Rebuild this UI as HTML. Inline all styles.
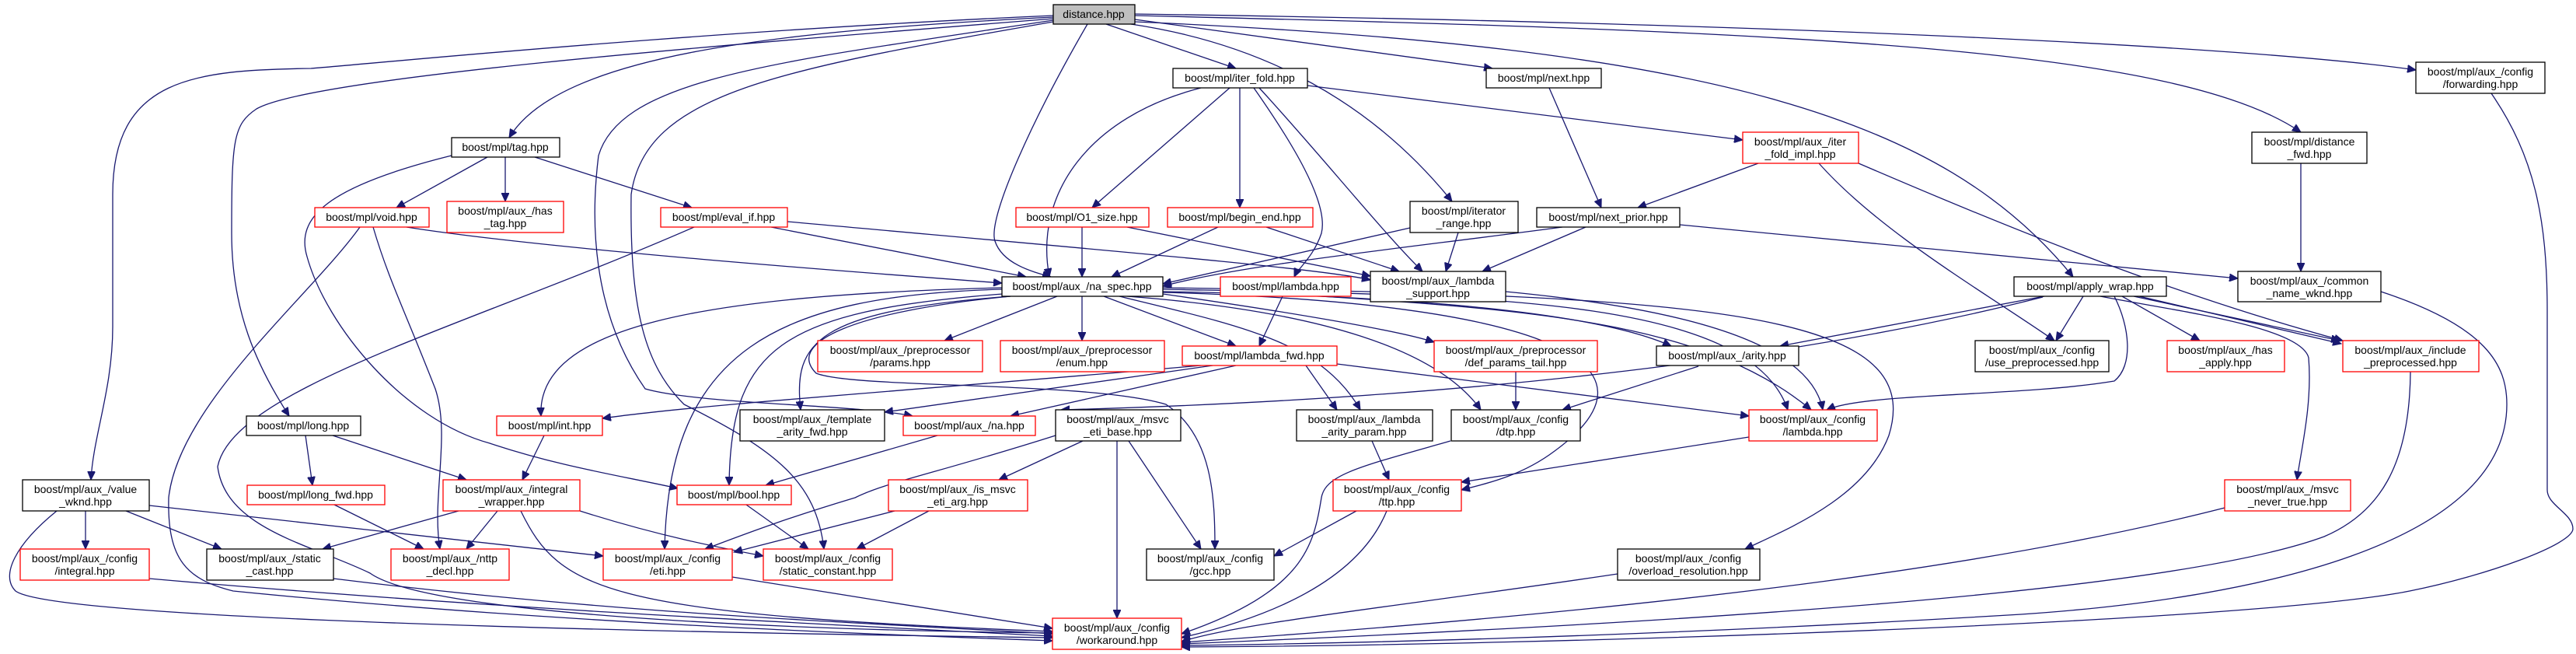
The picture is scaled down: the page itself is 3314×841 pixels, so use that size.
<!DOCTYPE html>
<html><head><meta charset="utf-8"><style>
html,body{margin:0;padding:0;background:#fff;}
svg{display:block;}
text{font-family:"Liberation Sans",Helvetica,sans-serif;font-size:14px;fill:#000;text-anchor:middle;}
.e{fill:none;stroke:#191970;stroke-width:1.3;marker-end:url(#a);}
.b{fill:#fff;stroke:#000;stroke-width:1.3;}
.r{fill:#fff;stroke:#ff0000;stroke-width:1.3;}
</style></head><body>
<svg width="3314" height="841" viewBox="0 0 3314 841" xmlns="http://www.w3.org/2000/svg">
<defs><marker id="a" markerUnits="userSpaceOnUse" markerWidth="12" markerHeight="10" refX="11" refY="5" orient="auto"><path d="M0,0 L11,5 L0,10 z" fill="#191970" stroke="#191970"/></marker></defs>
<g>
<path class="e" d="M1423,31 L1590,88"/>
<path class="e" d="M1355,22 C1000,40 720,70 655,177"/>
<path class="e" d="M1399,31 C1330,150 1270,280 1280,310 C1290,340 1330,350 1352,356"/>
<path class="e" d="M1460,25 L1920,88"/>
<path class="e" d="M1455,31 C1650,60 1780,150 1868,259"/>
<path class="e" d="M1460,20 C2300,40 2800,60 2960,170"/>
<path class="e" d="M1460,18 C2300,30 2900,60 3108,90"/>
<path class="e" d="M1460,28 C2200,60 2500,150 2667,356"/>
<path class="e" d="M1355,24 C900,60 400,100 330,140 C300,160 298,180 298,300 C298,400 330,470 372,535"/>
<path class="e" d="M1355,20 C900,40 500,80 400,88 C250,90 145,100 145,250 L145,420 C145,500 120,560 117,617"/>
<path class="e" d="M1355,26 C1000,80 800,100 770,200 C760,280 760,400 830,500 C900,520 1100,520 1174,535"/>
<path class="e" d="M1355,28 C1000,90 830,120 812,250 C810,400 830,470 880,520 C1000,580 1050,620 1060,706"/>
<path class="e" d="M1360,381 L1215,438"/>
<path class="e" d="M1392,381 L1392,438"/>
<path class="e" d="M1420,381 L1590,445"/>
<path class="e" d="M1496,378 C1650,400 1800,425 1845,440"/>
<path class="e" d="M1496,375 C1800,380 2050,400 2150,445"/>
<path class="e" d="M1496,372 C1900,380 2250,380 2300,527"/>
<path class="e" d="M1450,381 C1700,400 1850,450 1905,527"/>
<path class="e" d="M1440,381 C1600,420 1700,440 1750,527"/>
<path class="e" d="M1496,376 C2000,390 2150,470 2000,580 C1960,610 1920,620 1880,630"/>
<path class="e" d="M1300,381 C1100,400 1010,440 1050,480 C1100,500 1400,490 1500,520 C1560,560 1563,640 1563,706"/>
<path class="e" d="M1496,370 C2200,380 2480,400 2430,560 C2400,640 2300,680 2245,706"/>
<path class="e" d="M1300,381 C1050,400 1020,440 1030,527"/>
<path class="e" d="M1290,378 C1000,400 940,450 938,624"/>
<path class="e" d="M1289,372 C1000,380 860,450 855,706"/>
<path class="e" d="M1289,370 C900,380 690,420 696,535"/>
<path class="e" d="M1545,113 C1400,150 1330,250 1350,356"/>
<path class="e" d="M1582,113 L1405,267"/>
<path class="e" d="M1595,113 L1595,267"/>
<path class="e" d="M1613,113 C1660,180 1710,260 1700,300 C1690,330 1670,345 1665,356"/>
<path class="e" d="M1620,113 C1700,200 1780,300 1830,349"/>
<path class="e" d="M1682,110 L2242,180"/>
<path class="e" d="M2262,210 L2107,267"/>
<path class="e" d="M2340,210 C2420,300 2560,380 2643,438"/>
<path class="e" d="M2391,210 C2600,300 2800,380 3014,438"/>
<path class="e" d="M1993,113 L2060,267"/>
<path class="e" d="M1814,293 L1496,365"/>
<path class="e" d="M1876,299 L1860,349"/>
<path class="e" d="M2010,292 C1800,320 1600,340 1496,368"/>
<path class="e" d="M2040,292 L1907,349"/>
<path class="e" d="M2161,289 L2879,358"/>
<path class="e" d="M1392,292 L1392,356"/>
<path class="e" d="M1450,292 L1763,355"/>
<path class="e" d="M1567,292 L1430,356"/>
<path class="e" d="M1629,292 L1800,349"/>
<path class="e" d="M992,292 L1320,356"/>
<path class="e" d="M1013,285 C1400,320 1700,345 1763,360"/>
<path class="e" d="M523,292 C700,320 1100,350 1289,364"/>
<path class="e" d="M627,202 L510,267"/>
<path class="e" d="M650,202 L650,259"/>
<path class="e" d="M688,202 L890,267"/>
<path class="e" d="M1650,381 L1620,445"/>
<path class="e" d="M1700,381 C2000,400 2200,420 2330,527"/>
<path class="e" d="M1937,375 C2200,400 2330,450 2345,527"/>
<path class="e" d="M1560,470 L1138,530"/>
<path class="e" d="M1590,470 L1300,535"/>
<path class="e" d="M1680,470 L1720,527"/>
<path class="e" d="M1720,468 L2250,535"/>
<path class="e" d="M1545,470 C1200,500 900,520 775,538"/>
<path class="e" d="M2630,381 L2290,445"/>
<path class="e" d="M2680,381 L2645,438"/>
<path class="e" d="M2730,381 L2830,438"/>
<path class="e" d="M2745,381 L3010,438"/>
<path class="e" d="M2752,381 L3012,442"/>
<path class="e" d="M2702,381 C2800,400 2960,420 2970,460 C2975,520 2960,580 2955,617"/>
<path class="e" d="M2628,382 C2400,440 2000,510 1365,527"/>
<path class="e" d="M2720,381 C2740,420 2745,470 2720,490 C2600,510 2400,505 2350,527"/>
<path class="e" d="M2185,471 L2010,527"/>
<path class="e" d="M1950,478 L1950,527"/>
<path class="e" d="M1765,567 L1787,617"/>
<path class="e" d="M1866,567 C1750,600 1705,610 1700,640 C1690,700 1680,760 1520,815"/>
<path class="e" d="M2250,562 L1880,620"/>
<path class="e" d="M1745,657 L1639,715"/>
<path class="e" d="M1784,657 C1750,740 1650,790 1520,820"/>
<path class="e" d="M2081,738 C1800,780 1600,800 1520,825"/>
<path class="e" d="M3063,375 C3200,420 3225,470 3225,520 C3225,700 2900,770 2600,790 C2100,820 1700,828 1520,830"/>
<path class="e" d="M3205,120 C3260,200 3277,280 3277,400 L3277,630 C3277,650 3310,660 3310,680 C3310,700 3200,740 3100,760 C2900,800 2000,830 1520,832"/>
<path class="e" d="M3101,478 C3100,600 3060,660 2990,690 C2800,760 2200,800 1520,828"/>
<path class="e" d="M2862,653 C2600,720 2200,780 1520,826"/>
<path class="e" d="M2960,210 L2960,349"/>
<path class="e" d="M1206,560 L985,624"/>
<path class="e" d="M1393,567 L1285,617"/>
<path class="e" d="M1358,560 C1200,610 1140,620 1100,640 C1000,670 950,690 907,706"/>
<path class="e" d="M1452,567 L1545,706"/>
<path class="e" d="M1437,567 L1437,795"/>
<path class="e" d="M1151,657 L944,710"/>
<path class="e" d="M1195,657 L1102,706"/>
<path class="e" d="M960,649 L1040,706"/>
<path class="e" d="M393,560 L402,624"/>
<path class="e" d="M428,560 L600,617"/>
<path class="e" d="M700,560 L672,617"/>
<path class="e" d="M430,649 L545,706"/>
<path class="e" d="M590,657 L415,706"/>
<path class="e" d="M640,657 L600,706"/>
<path class="e" d="M670,657 C720,760 780,790 1354,812"/>
<path class="e" d="M746,657 C850,690 930,705 982,715"/>
<path class="e" d="M110,657 L110,706"/>
<path class="e" d="M162,657 L285,706"/>
<path class="e" d="M192,650 L776,715"/>
<path class="e" d="M73,657 C20,700 0,740 20,760 C60,790 600,810 1354,820"/>
<path class="e" d="M192,744 C600,780 1000,800 1354,818"/>
<path class="e" d="M429,744 C800,790 1100,800 1354,815"/>
<path class="e" d="M942,742 L1354,808"/>
<path class="e" d="M581,200 C420,240 380,280 395,330 C420,420 520,540 630,570 C720,600 800,612 872,628"/>
<path class="e" d="M480,292 C500,360 521,400 560,500 C580,560 555,640 566,706"/>
<path class="e" d="M893,292 C600,420 300,500 280,600 C290,680 400,700 476,737 C550,790 1000,810 1354,814"/>
<path class="e" d="M463,292 C400,380 230,520 217,640 C215,720 240,745 300,760 C700,800 1100,815 1354,824"/>
</g>
<g>
<rect x="1355" y="6" width="105" height="25" fill="#bfbfbf" stroke="#000" stroke-width="1.3"/><text x="1407" y="23">distance.hpp</text>
<rect class="b" x="1509" y="88" width="173" height="25"/><text x="1595" y="105">boost/mpl/iter_fold.hpp</text>
<rect class="b" x="1912" y="88" width="148" height="25"/><text x="1986" y="105">boost/mpl/next.hpp</text>
<rect class="b" x="3108" y="80" width="166" height="40"/><text x="3191" y="97">boost/mpl/aux_/config</text><text x="3191" y="113">/forwarding.hpp</text>
<rect class="b" x="581" y="177" width="139" height="25"/><text x="650" y="194">boost/mpl/tag.hpp</text>
<rect class="r" x="2242" y="170" width="149" height="40"/><text x="2316" y="187">boost/mpl/aux_/iter</text><text x="2316" y="203">_fold_impl.hpp</text>
<rect class="b" x="2897" y="170" width="148" height="40"/><text x="2971" y="187">boost/mpl/distance</text><text x="2971" y="203">_fwd.hpp</text>
<rect class="r" x="405" y="267" width="147" height="25"/><text x="478" y="284">boost/mpl/void.hpp</text>
<rect class="r" x="575" y="259" width="150" height="40"/><text x="650" y="276">boost/mpl/aux_/has</text><text x="650" y="292">_tag.hpp</text>
<rect class="r" x="850" y="267" width="163" height="25"/><text x="931" y="284">boost/mpl/eval_if.hpp</text>
<rect class="r" x="1307" y="267" width="171" height="25"/><text x="1392" y="284">boost/mpl/O1_size.hpp</text>
<rect class="r" x="1502" y="267" width="187" height="25"/><text x="1595" y="284">boost/mpl/begin_end.hpp</text>
<rect class="b" x="1814" y="259" width="139" height="40"/><text x="1883" y="276">boost/mpl/iterator</text><text x="1883" y="292">_range.hpp</text>
<rect class="b" x="1977" y="267" width="184" height="25"/><text x="2069" y="284">boost/mpl/next_prior.hpp</text>
<rect class="b" x="1289" y="356" width="207" height="25"/><text x="1392" y="373">boost/mpl/aux_/na_spec.hpp</text>
<rect class="r" x="1570" y="356" width="168" height="25"/><text x="1654" y="373">boost/mpl/lambda.hpp</text>
<rect class="b" x="1763" y="349" width="174" height="39"/><text x="1850" y="366">boost/mpl/aux_/lambda</text><text x="1850" y="382">_support.hpp</text>
<rect class="b" x="2591" y="356" width="196" height="25"/><text x="2689" y="373">boost/mpl/apply_wrap.hpp</text>
<rect class="b" x="2879" y="349" width="184" height="39"/><text x="2971" y="366">boost/mpl/aux_/common</text><text x="2971" y="382">_name_wknd.hpp</text>
<rect class="r" x="1052" y="438" width="212" height="40"/><text x="1158" y="455">boost/mpl/aux_/preprocessor</text><text x="1158" y="471">/params.hpp</text>
<rect class="r" x="1287" y="438" width="211" height="40"/><text x="1392" y="455">boost/mpl/aux_/preprocessor</text><text x="1392" y="471">/enum.hpp</text>
<rect class="r" x="1521" y="445" width="199" height="25"/><text x="1620" y="462">boost/mpl/lambda_fwd.hpp</text>
<rect class="r" x="1845" y="438" width="210" height="40"/><text x="1950" y="455">boost/mpl/aux_/preprocessor</text><text x="1950" y="471">/def_params_tail.hpp</text>
<rect class="b" x="2131" y="445" width="183" height="25"/><text x="2222" y="462">boost/mpl/aux_/arity.hpp</text>
<rect class="b" x="2541" y="438" width="172" height="40"/><text x="2627" y="455">boost/mpl/aux_/config</text><text x="2627" y="471">/use_preprocessed.hpp</text>
<rect class="r" x="2788" y="438" width="151" height="40"/><text x="2863" y="455">boost/mpl/aux_/has</text><text x="2863" y="471">_apply.hpp</text>
<rect class="r" x="3014" y="438" width="175" height="40"/><text x="3101" y="455">boost/mpl/aux_/include</text><text x="3101" y="471">_preprocessed.hpp</text>
<rect class="b" x="317" y="535" width="147" height="25"/><text x="390" y="552">boost/mpl/long.hpp</text>
<rect class="r" x="639" y="535" width="136" height="25"/><text x="707" y="552">boost/mpl/int.hpp</text>
<rect class="b" x="952" y="527" width="186" height="40"/><text x="1045" y="544">boost/mpl/aux_/template</text><text x="1045" y="560">_arity_fwd.hpp</text>
<rect class="r" x="1162" y="535" width="170" height="25"/><text x="1247" y="552">boost/mpl/aux_/na.hpp</text>
<rect class="b" x="1358" y="527" width="161" height="40"/><text x="1438" y="544">boost/mpl/aux_/msvc</text><text x="1438" y="560">_eti_base.hpp</text>
<rect class="b" x="1668" y="527" width="175" height="40"/><text x="1755" y="544">boost/mpl/aux_/lambda</text><text x="1755" y="560">_arity_param.hpp</text>
<rect class="b" x="1867" y="527" width="166" height="40"/><text x="1950" y="544">boost/mpl/aux_/config</text><text x="1950" y="560">/dtp.hpp</text>
<rect class="r" x="2250" y="527" width="165" height="40"/><text x="2332" y="544">boost/mpl/aux_/config</text><text x="2332" y="560">/lambda.hpp</text>
<rect class="b" x="29" y="617" width="163" height="40"/><text x="110" y="634">boost/mpl/aux_/value</text><text x="110" y="650">_wknd.hpp</text>
<rect class="r" x="318" y="624" width="177" height="25"/><text x="406" y="641">boost/mpl/long_fwd.hpp</text>
<rect class="r" x="570" y="617" width="176" height="40"/><text x="658" y="634">boost/mpl/aux_/integral</text><text x="658" y="650">_wrapper.hpp</text>
<rect class="r" x="871" y="624" width="147" height="25"/><text x="944" y="641">boost/mpl/bool.hpp</text>
<rect class="r" x="1143" y="617" width="179" height="40"/><text x="1232" y="634">boost/mpl/aux_/is_msvc</text><text x="1232" y="650">_eti_arg.hpp</text>
<rect class="r" x="1715" y="617" width="165" height="40"/><text x="1797" y="634">boost/mpl/aux_/config</text><text x="1797" y="650">/ttp.hpp</text>
<rect class="r" x="2862" y="617" width="162" height="40"/><text x="2943" y="634">boost/mpl/aux_/msvc</text><text x="2943" y="650">_never_true.hpp</text>
<rect class="r" x="26" y="706" width="166" height="40"/><text x="109" y="723">boost/mpl/aux_/config</text><text x="109" y="739">/integral.hpp</text>
<rect class="b" x="266" y="706" width="163" height="40"/><text x="347" y="723">boost/mpl/aux_/static</text><text x="347" y="739">_cast.hpp</text>
<rect class="r" x="503" y="706" width="152" height="40"/><text x="579" y="723">boost/mpl/aux_/nttp</text><text x="579" y="739">_decl.hpp</text>
<rect class="r" x="776" y="706" width="166" height="40"/><text x="859" y="723">boost/mpl/aux_/config</text><text x="859" y="739">/eti.hpp</text>
<rect class="r" x="982" y="706" width="166" height="40"/><text x="1065" y="723">boost/mpl/aux_/config</text><text x="1065" y="739">/static_constant.hpp</text>
<rect class="b" x="1475" y="706" width="164" height="40"/><text x="1557" y="723">boost/mpl/aux_/config</text><text x="1557" y="739">/gcc.hpp</text>
<rect class="b" x="2081" y="706" width="183" height="40"/><text x="2172" y="723">boost/mpl/aux_/config</text><text x="2172" y="739">/overload_resolution.hpp</text>
<rect class="r" x="1354" y="795" width="166" height="40"/><text x="1437" y="812">boost/mpl/aux_/config</text><text x="1437" y="828">/workaround.hpp</text>
</g>
</svg>
</body></html>
